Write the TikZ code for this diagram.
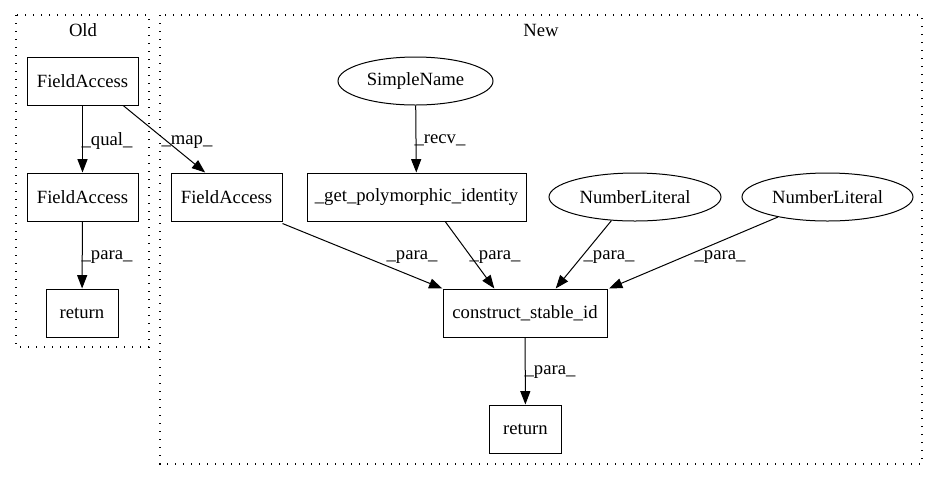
\documentclass[tikz,border=0pt]{standalone}
\usepackage{fontspec}
\setmainfont{Liberation Serif}
\usetikzlibrary{arrows.meta,shapes.geometric}
\begin{document}
\begin{tikzpicture}[x=0.75pt,y=-0.75pt,
  txt/.style={font=\fontsize{14}{16}\selectfont},
  box/.style={txt,draw,line width=0.75pt,rectangle,inner sep=0pt,minimum height=36pt},
  oval/.style={txt,draw,line width=0.75pt,ellipse,inner sep=0pt,minimum height=36pt},
  conn/.style={draw,line width=0.75pt,-{Triangle[length=10pt,width=7.5pt]}},
  lbl/.style={txt,inner sep=0pt},
  cluster/.style={draw,line width=1pt,dash pattern=on 1pt off 5pt}]
\useasboundingbox (0,0) rectangle (940,480);
% clusters
\draw[cluster] (16,15) rectangle (149,347);
\draw[cluster] (160,15) rectangle (922,464);
\node[lbl] (oldlbl) at (83,30) {Old};
\node[lbl] (newlbl) at (541,30) {New};
% Old nodes
\node[box,minimum width=83.25pt] (ofa1) at (82.5,81) {FieldAccess};
\node[box,minimum width=83.25pt] (ofa2) at (82.5,197) {FieldAccess};
\node[box,minimum width=54pt] (oret) at (82,313) {return};
% New nodes
\node[box,minimum width=83.25pt] (nfa) at (226.5,197) {FieldAccess};
\node[oval,minimum width=116.25pt] (sn) at (415.5,81) {SimpleName};
\node[box,minimum width=164.25pt] (gp) at (416.5,197) {\_get\_polymorphic\_identity};
\node[oval,minimum width=129pt] (nl1) at (635,197) {NumberLiteral};
\node[oval,minimum width=128.25pt] (nl2) at (827.5,197) {NumberLiteral};
\node[box,minimum width=123pt] (cs) at (525,313) {construct\_stable\_id};
\node[box,minimum width=54pt] (nret) at (525.5,429) {return};
% edges
\draw[conn] (ofa1) -- (ofa2);
\draw[conn] (ofa2) -- (oret);
\draw[conn] ([xshift=30.5]ofa1.south) -- ([xshift=26]nfa.north west);
\draw[conn] (sn) -- (gp);
\draw[conn] ([yshift=-1.5]nfa.south east) -- ([xshift=-62]cs.north);
\draw[conn] ([xshift=21.5]gp.south) -- ([xshift=-23]cs.north);
\draw[conn] (nl1.225) -- ([xshift=23]cs.north);
\draw[conn] (nl2.202) -- ([xshift=63]cs.north);
\draw[conn] (cs) -- (nret);
% labels
\node[lbl] (l1) at (107,141) {\_qual\_};
\node[lbl] (l2) at (107,257) {\_para\_};
\node[lbl] (l3) at (187,142) {\_map\_};
\node[lbl] (l4) at (440,140) {\_recv\_};
\node[lbl] (l5) at (412,257) {\_para\_};
\node[lbl] (l6) at (495,257) {\_para\_};
\node[lbl] (l7) at (609,257) {\_para\_};
\node[lbl] (l8) at (720,257) {\_para\_};
\node[lbl] (l9) at (550,372) {\_para\_};
\end{tikzpicture}
\end{document}
